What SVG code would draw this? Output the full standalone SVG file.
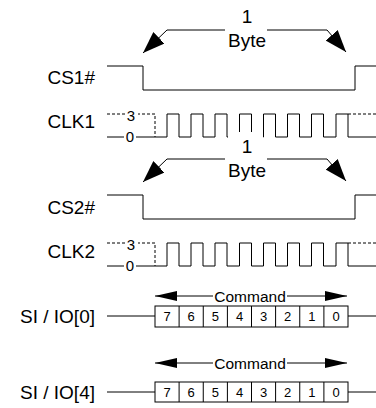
<svg xmlns="http://www.w3.org/2000/svg" width="376" height="408" viewBox="0 0 376 408">
<defs>
<style>
.lbl{font-family:"Liberation Sans",Arial,sans-serif;font-size:19px;fill:#000}
.mid{text-anchor:middle}
.end{text-anchor:end}
.sm{font-family:"Liberation Sans",Arial,sans-serif;font-size:15px;fill:#000;text-anchor:middle}
.cmd{font-family:"Liberation Sans",Arial,sans-serif;font-size:15.5px;fill:#000;text-anchor:middle}
.bit{font-family:"Liberation Sans",Arial,sans-serif;font-size:13px;fill:#000;text-anchor:middle}
.w{fill:none;stroke:#000;stroke-width:1}
.d{fill:none;stroke:#000;stroke-width:1;stroke-dasharray:3 2}
.cell{fill:#fff;stroke:#000;stroke-width:1}
</style>
<marker id="ah" viewBox="0 0 22 16" refX="22" refY="8" markerWidth="22" markerHeight="16" markerUnits="userSpaceOnUse" orient="auto">
<path d="M0,0 L22,8 L0,16 Z" fill="#000"/>
</marker>
<marker id="ch" viewBox="0 0 22 10" refX="22" refY="5" markerWidth="22" markerHeight="10" markerUnits="userSpaceOnUse" orient="auto">
<path d="M0,0 L22,5 L0,10 Z" fill="#000"/>
</marker>
</defs>
<rect width="376" height="408" fill="#fff"/>

<g id="labels">
<text class="lbl end" x="95" y="84">CS1#</text>
<text class="lbl end" x="95" y="128">CLK1</text>
<text class="lbl end" x="95" y="214">CS2#</text>
<text class="lbl end" x="95" y="258">CLK2</text>
<text class="lbl end" x="95" y="323">SI / IO[0]</text>
<text class="lbl end" x="95" y="399">SI / IO[4]</text>
</g>

<g id="cs1">
<path class="w" d="M107,66 H143 V90 H355 V66 H376"/>
</g>

<g id="byte1">
<text class="lbl mid" x="247" y="23">1</text>
<text class="lbl mid" x="247" y="47">Byte</text>
</g>

<g id="clk1">
<path class="d" d="M107,114 H155 V137"/>
<path class="w" d="M107,137 H167 V114 H179 V137 H191 V114 H203 V137 H215 V114 H227 V137 H239.5 V114 H251.5 V137 H263.5 V114 H275.5 V137 H287.5 V114 H299.5 V137 H311.5 V114 H323.5 V137 H336 V114 H348 V137 H376"/>
<path class="d" d="M348,114 H376"/>
<rect x="125" y="107" width="13" height="14" fill="#fff"/>
<text class="sm" x="131" y="121">3</text>
<rect x="124" y="130" width="12" height="14" fill="#fff"/>
<text class="sm" x="130" y="142">0</text>
</g>

<g id="byte2">
<rect x="228" y="132" width="35" height="50" fill="#fff"/>
<text class="lbl mid" x="247" y="153">1</text>
<text class="lbl mid" x="247" y="177">Byte</text>
</g>

<g id="cs2">
<path class="w" d="M107,195 H143 V219 H355 V195 H376"/>
</g>

<g id="clk2">
<path class="d" d="M107,243 H155 V266"/>
<path class="w" d="M107,266 H167 V243 H179 V266 H191 V243 H203 V266 H215 V243 H227 V266 H239.5 V243 H251.5 V266 H263.5 V243 H275.5 V266 H287.5 V243 H299.5 V266 H311.5 V243 H323.5 V266 H336 V243 H348 V266 H376"/>
<path class="d" d="M348,243 H376"/>
<rect x="125" y="236" width="13" height="14" fill="#fff"/>
<text class="sm" x="131" y="250">3</text>
<rect x="124" y="259" width="12" height="14" fill="#fff"/>
<text class="sm" x="130" y="271">0</text>
</g>

<g id="si0">
<path class="w" d="M107,316 H155 M348,316 H376"/>
<rect class="cell" x="155" y="306" width="193" height="21"/>
<path class="w" d="M179.1,306 V327 M203.25,306 V327 M227.4,306 V327 M251.5,306 V327 M275.6,306 V327 M299.75,306 V327 M323.9,306 V327"/>
<text class="bit" x="167" y="321">7</text>
<text class="bit" x="191.2" y="321">6</text>
<text class="bit" x="215.3" y="321">5</text>
<text class="bit" x="239.5" y="321">4</text>
<text class="bit" x="263.6" y="321">3</text>
<text class="bit" x="287.7" y="321">2</text>
<text class="bit" x="311.8" y="321">1</text>
<text class="bit" x="336" y="321">0</text>
<text class="cmd" x="250" y="301.5">Command</text>
</g>

<g id="si4">
<path class="w" d="M107,392 H155 M348,392 H376"/>
<rect class="cell" x="155" y="382" width="193" height="20"/>
<path class="w" d="M179.1,382 V402 M203.25,382 V402 M227.4,382 V402 M251.5,382 V402 M275.6,382 V402 M299.75,382 V402 M323.9,382 V402"/>
<text class="bit" x="167" y="397">7</text>
<text class="bit" x="191.2" y="397">6</text>
<text class="bit" x="215.3" y="397">5</text>
<text class="bit" x="239.5" y="397">4</text>
<text class="bit" x="263.6" y="397">3</text>
<text class="bit" x="287.7" y="397">2</text>
<text class="bit" x="311.8" y="397">1</text>
<text class="bit" x="336" y="397">0</text>
<text class="cmd" x="250" y="368.5">Command</text>
</g>

<g id="connectors">
<path class="w" d="M225,30 H167 L143,53" marker-end="url(#ah)"/>
<path class="w" d="M267,30 H327 L346,52" marker-end="url(#ah)"/>
<path class="w" d="M225,159 H167 L143,182" marker-end="url(#ah)"/>
<path class="w" d="M267,159 H327 L346,181" marker-end="url(#ah)"/>
<path class="w" d="M213,296 H155" marker-end="url(#ch)"/>
<path class="w" d="M287,296 H347" marker-end="url(#ch)"/>
<path class="w" d="M213,363 H155" marker-end="url(#ch)"/>
<path class="w" d="M287,363 H347" marker-end="url(#ch)"/>
</g>
</svg>
